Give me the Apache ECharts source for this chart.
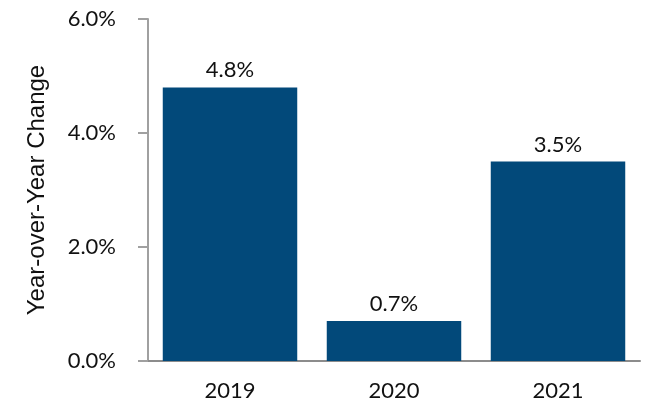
<!DOCTYPE html>
<html><head><meta charset="utf-8">
<script src="https://cdn.jsdelivr.net/npm/echarts@6/dist/echarts.min.js"></script>
<style>html,body{margin:0;padding:0;background:#fff}#c{width:660px;height:420px}</style>
</head><body><div id="c"></div>
<script>
const categories = ['2019', '2020', '2021'];
const values = [4.8, 0.7, 3.5];
const yTicks = [0, 2, 4, 6];

const chart = echarts.init(document.getElementById('c'));
chart.setOption({
  animation: false,
  grid: { left: 148, right: 20, top: 19, bottom: 59 },
  xAxis: {
    type: 'category', data: categories,
    axisLine: { lineStyle: { color: '#8c8c8c', width: 2 } },
    axisTick: { alignWithLabel: true, length: 8, lineStyle: { color: '#8c8c8c', width: 2 } },
    axisLabel: { color: '#111', fontSize: 22, fontFamily: 'Lato', margin: 19 }
  },
  yAxis: {
    type: 'value', min: yTicks[0], max: yTicks[yTicks.length - 1], interval: 2,
    name: 'Year-over-Year Change', nameLocation: 'middle', nameGap: 99,
    nameTextStyle: { color: '#111', fontSize: 24, fontFamily: 'Liberation Sans' },
    axisLine: { show: true, lineStyle: { color: '#a0a0a0', width: 2 } },
    axisTick: { show: true, length: 10, lineStyle: { color: '#a0a0a0', width: 2 } },
    splitLine: { show: false },
    axisLabel: { color: '#111', fontSize: 22, fontFamily: 'Lato', margin: 32,
      formatter: v => v.toFixed(1) + '%' }
  },
  series: [{
    type: 'bar', data: values, barCategoryGap: '18%',
    itemStyle: { color: '#02497a' },
    label: { show: true, position: 'top', distance: 6, color: '#111', fontSize: 22, fontFamily: 'Lato',
      formatter: p => p.value.toFixed(1) + '%' }
  }]
});
</script></body></html>
